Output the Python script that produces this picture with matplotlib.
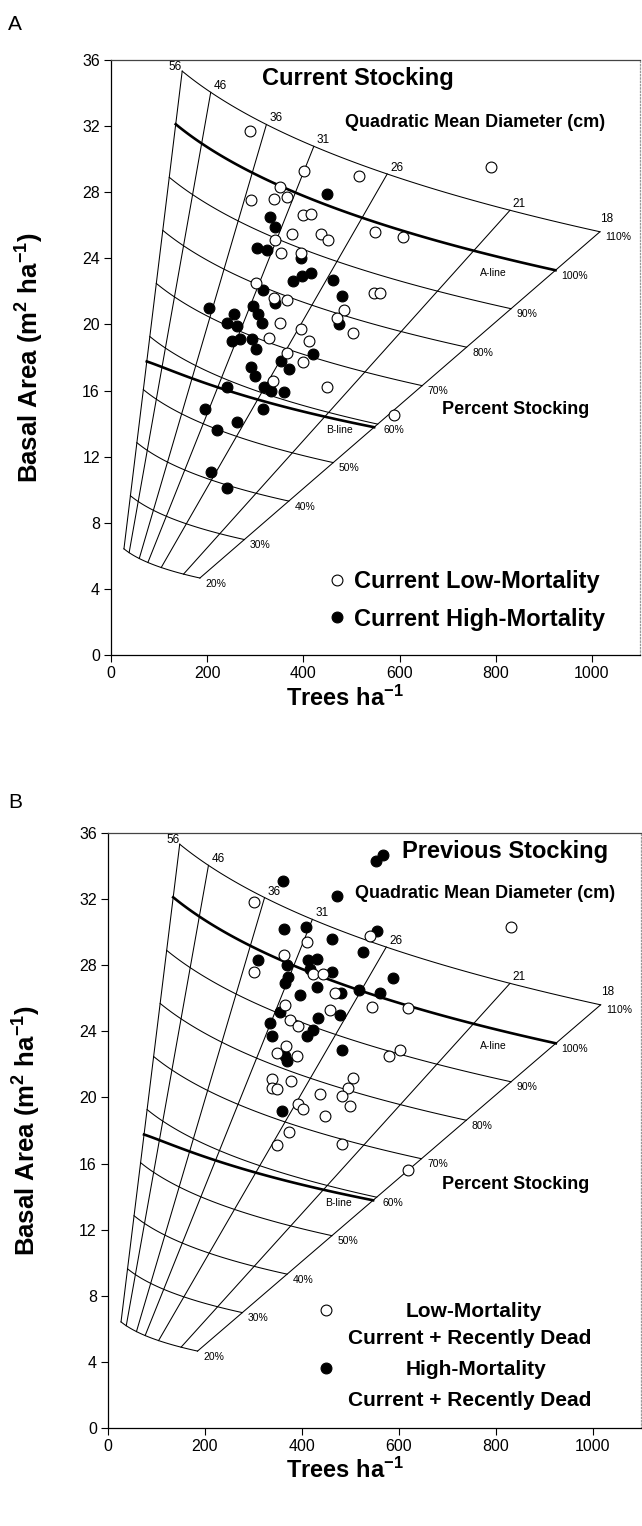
import numpy as np
import matplotlib.pyplot as plt
from matplotlib.lines import Line2D

plt.rcParams['font.family'] = ['Liberation Sans', 'DejaVu Sans']
plt.rcParams['mathtext.default'] = 'regular'

# stocking guide: diameter lines (inches; labelled in cm) and percent stocking curves
QMD_IN = [21.7, 18, 14, 12, 10, 8, 7.05]
QMD_LABELS = [56, 46, 36, 31, 26, 21, 18]
STOCKING_PCT = [20, 30, 40, 50, 60, 70, 80, 90, 100, 110]
# percent stocking contributed by one tree/ha of QMD d (inches): a + b*d + c*d^2
TAR = (-0.0001, 0.006273, 0.001289)
B_LINE_D = [7.05, 21.7]
B_LINE_PCT = [59.2, 55.3]

# panel A - current stocking
a_low_n = [288, 401, 516, 351, 292, 338, 365, 400, 415, 377, 436, 452, 548, 607, 342, 353, 395,
           301, 338, 367, 546, 560, 485, 351, 395, 503, 328, 412, 367, 400, 337, 450, 589, 790, 470]
a_low_ba = [31.7, 29.3, 29.0, 28.3, 27.5, 27.6, 27.7, 26.6, 26.7, 25.5, 25.5, 25.1, 25.6, 25.3, 25.1, 24.3, 24.3,
            22.5, 21.6, 21.5, 21.9, 21.9, 20.9, 20.1, 19.7, 19.5, 19.2, 19.0, 18.3, 17.7, 16.6, 16.2, 14.5, 29.5, 20.4]
a_high_n = [450, 331, 340, 304, 325, 395, 379, 398, 415, 461, 317, 342, 480, 296, 305, 315, 203, 255, 242, 475,
            262, 252, 269, 294, 301, 419, 353, 370, 292, 299, 242, 318, 332, 360, 196, 317, 261, 221, 207, 242]
a_high_ba = [27.9, 26.5, 25.9, 24.6, 24.5, 24.0, 22.6, 22.9, 23.1, 22.7, 22.1, 21.3, 21.7, 21.1, 20.6, 20.1, 21.0, 20.6, 20.1, 20.0,
             19.9, 19.0, 19.1, 19.1, 18.5, 18.2, 17.8, 17.3, 17.4, 16.9, 16.2, 16.2, 16.0, 15.9, 14.9, 14.9, 14.1, 13.6, 11.1, 10.1]

# panel B - previous stocking (current + recently dead)
b_low_n = [301, 410, 541, 363, 301, 424, 444, 469, 544, 620, 458, 365, 376, 393, 349, 367, 390, 579,
           603, 339, 338, 349, 378, 393, 403, 438, 448, 506, 496, 482, 500, 374, 348, 484, 620, 832]
b_low_ba = [31.8, 29.4, 29.8, 28.6, 27.6, 27.5, 27.5, 26.3, 25.5, 25.4, 25.3, 25.6, 24.7, 24.3, 22.7, 23.1, 22.5, 22.5,
            22.9, 21.1, 20.6, 20.5, 21.0, 19.6, 19.3, 20.2, 18.9, 21.2, 20.6, 20.1, 19.5, 17.9, 17.1, 17.2, 15.6, 30.3]
b_high_n = [553, 567, 362, 472, 364, 409, 463, 555, 527, 310, 369, 372, 365, 412, 431, 462, 417,
            431, 396, 481, 518, 561, 588, 354, 334, 434, 479, 410, 424, 338, 484, 365, 369, 359]
b_high_ba = [34.3, 34.7, 33.1, 32.2, 30.2, 30.3, 29.6, 30.1, 28.8, 28.3, 28.0, 27.3, 26.9, 28.3, 28.4, 27.6, 27.8,
             26.7, 26.2, 26.3, 26.5, 26.3, 27.2, 25.2, 24.5, 24.8, 25.0, 23.7, 24.1, 23.7, 22.9, 22.5, 22.2, 19.2]

MS = 7.8


def pct_per_tree(d):
    return TAR[0] + TAR[1] * d + TAR[2] * d ** 2


def curve(pct, d):
    n = pct / pct_per_tree(d)
    return n, n * np.pi / 4 * (d * 0.0254) ** 2


def draw_guide(ax):
    d = np.linspace(min(QMD_IN), max(QMD_IN), 120)
    for s in STOCKING_PCT:
        n, ba = curve(s, d)
        ax.plot(n, ba, color='black', lw=1.9 if s == 100 else 0.75, zorder=1)
        n0, ba0 = curve(s, min(QMD_IN))
        ax.annotate('%d%%' % s, (n0, ba0), xytext=(4, -4), textcoords='offset points',
                    ha='left', va='center', fontsize=7.5)
    sb = np.interp(d, B_LINE_D, B_LINE_PCT)
    n, ba = curve(sb, d)
    ax.plot(n, ba, color='black', lw=1.9, zorder=1)
    for q, lab in zip(QMD_IN, QMD_LABELS):
        n, ba = curve(np.array([min(STOCKING_PCT), max(STOCKING_PCT)]), q)
        ax.plot(n, ba, color='black', lw=0.75, zorder=1)
        if q == max(QMD_IN):
            off, ha = (0, -1), 'right'
        elif q == min(QMD_IN):
            off, ha = (0, 5), 'left'
        else:
            off, ha = (2, 0), 'left'
        ax.annotate(str(lab), (n[1], ba[1]), xytext=off, textcoords='offset points',
                    ha=ha, va='bottom', fontsize=8.5)
    ax.text(795, 23.1, 'A-line', ha='center', va='center', fontsize=7.5)
    ax.text(476, 13.6, 'B-line', ha='center', va='center', fontsize=7.5)


def style_axes(ax):
    ax.set_xlim(0, 1100)
    ax.set_ylim(0, 36)
    ax.set_xticks(range(0, 1001, 200))
    ax.set_yticks(range(0, 37, 4))
    ax.tick_params(direction='out', length=5, width=0.8, labelsize=11.5, pad=3)
    ax.spines['top'].set_color('#444444')
    ax.spines['right'].set_color('#999999')
    ax.spines['right'].set_linestyle(':')
    for s in ax.spines.values():
        s.set_linewidth(0.9)
    ax.set_xlabel('Trees ha$^{-1}$', fontsize=17, fontweight='bold')
    ax.set_ylabel('Basal Area (m$^2$ ha$^{-1}$)', fontsize=18.5, fontweight='bold')


def scatter(ax, n_low, ba_low, n_high, ba_high):
    ax.plot(n_high, ba_high, ls='none', marker='o', ms=MS, mfc='black', mec='black', mew=0.8, zorder=3)
    ax.plot(n_low, ba_low, ls='none', marker='o', ms=MS, mfc='white', mec='black', mew=0.8, zorder=4)


fig = plt.figure(figsize=(6.42, 15.26), dpi=100)
axA = fig.add_axes([0.1729, 0.5708, 0.824, 0.3899])
axB = fig.add_axes([0.1682, 0.0642, 0.8302, 0.3899])

h_low = Line2D([], [], ls='none', marker='o', ms=MS, mfc='white', mec='black', mew=0.8)
h_high = Line2D([], [], ls='none', marker='o', ms=MS, mfc='black', mec='black', mew=0.8)

# panel A
draw_guide(axA)
scatter(axA, a_low_n, a_low_ba, a_high_n, a_high_ba)
style_axes(axA)
axA.xaxis.set_label_coords(0.442, -0.052)
axA.yaxis.set_label_coords(-0.123, 0.5)
axA.text(0.2854, 0.958, 'Current Stocking', transform=axA.transAxes, fontsize=17, fontweight='bold', va='baseline')
axA.text(0.4423, 0.887, 'Quadratic Mean Diameter (cm)', transform=axA.transAxes, fontsize=13,
         fontweight='bold', va='baseline')
axA.text(0.625, 0.405, 'Percent Stocking', transform=axA.transAxes, fontsize=13, fontweight='bold', va='baseline')
axA.legend([h_low, h_high], ['Current Low-Mortality', 'Current High-Mortality'], loc='center left',
           bbox_to_anchor=(0.410, 0.092), frameon=False, prop={'weight': 'bold', 'size': 17},
           handlelength=0.8, handletextpad=0.3, labelspacing=0.62, borderpad=0, borderaxespad=0)

# panel B
draw_guide(axB)
scatter(axB, b_low_n, b_low_ba, b_high_n, b_high_ba)
style_axes(axB)
axB.xaxis.set_label_coords(0.445, -0.050)
axB.yaxis.set_label_coords(-0.122, 0.5)
axB.text(0.5516, 0.9585, 'Previous Stocking', transform=axB.transAxes, fontsize=17, fontweight='bold', va='baseline')
axB.text(0.4634, 0.891, 'Quadratic Mean Diameter (cm)', transform=axB.transAxes, fontsize=13,
         fontweight='bold', va='baseline')
axB.text(0.626, 0.402, 'Percent Stocking', transform=axB.transAxes, fontsize=13, fontweight='bold', va='baseline')
axB.legend([h_low, h_high], ['Low-Mortality', 'High-Mortality'], loc='center left',
           bbox_to_anchor=(0.393, 0.147), frameon=False, prop={'weight': 'bold', 'size': 15},
           handlelength=0.8, handletextpad=3.44, labelspacing=1.87, borderpad=0, borderaxespad=0)
for y in (0.151, 0.047):
    axB.text(0.679, y, 'Current + Recently Dead', transform=axB.transAxes, ha='center', va='center',
             fontsize=15, fontweight='bold')

fig.text(0.0125, 0.9803, 'A', fontsize=15)
fig.text(0.0125, 0.4705, 'B', fontsize=15)

fig.savefig('out.png', dpi=100)
